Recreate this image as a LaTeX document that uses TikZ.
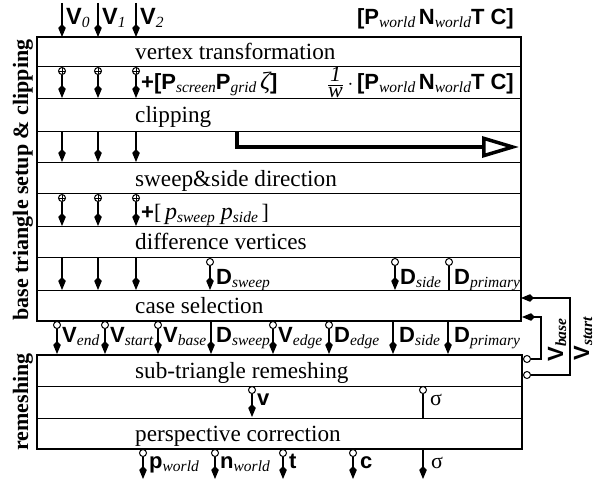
\documentclass[tikz,border=0pt]{standalone}
\usepackage{fontspec}
\setmainfont{Liberation Serif}
\setsansfont{Liberation Sans}
\usetikzlibrary{arrows.meta}

% bold sans symbol with an italic serif subscript
\newcommand\bsub[2]{{\sffamily\bfseries #1}\raisebox{-3pt}{\fontsize{15.5}{16}\selectfont\itshape #2}}
% italic serif symbol with an italic serif subscript
\newcommand\isub[2]{{\itshape #1}\raisebox{-3pt}{\fontsize{15.5}{16}\selectfont\itshape #2}}

\begin{document}
\begin{tikzpicture}[x=1pt,y=-1pt,
  txt/.style={font=\fontsize{23.2}{24}\selectfont, inner sep=0pt, anchor=base west},
  lab/.style={font=\fontsize{22}{24}\selectfont, inner sep=0pt, anchor=base west},
  labr/.style={lab, anchor=base east},
  sidelab/.style={font=\fontsize{22}{24}\selectfont\bfseries, inner sep=0pt, rotate=90},
  frame/.style={line width=1.6pt},
  sep/.style={line width=1pt},
  arr/.style={line width=1.1pt, -{Kite[length=13pt,width=7.5pt,inset=4pt]}},
  stub/.style={line width=1.1pt},
  ocirc/.style={circle, draw, line width=1pt, fill=white, inner sep=0pt, minimum size=7pt},
  oplus/.style={ocirc, path picture={
      \draw[line width=0.7pt] (path picture bounding box.north) -- (path picture bounding box.south)
            (path picture bounding box.west) -- (path picture bounding box.east);}},
  fat/.style={line width=3.5pt, -{Triangle[open, length=37pt, width=21pt]}}
]
\useasboundingbox (0,0) rectangle (600,481);

% ---------- base triangle setup & clipping block ----------
\draw[frame] (37,37) rectangle (521,321);
\foreach \y in {67,99,132,163,194,227,258,291}
  \draw[sep] (37,\y) -- (521,\y);

% ---------- remeshing block ----------
\draw[frame] (37,355) rectangle (522,449);
\foreach \y in {386,418}
  \draw[sep] (37,\y) -- (522,\y);

% side titles
\node[sidelab] (tsetup) at (23,180) {base triangle setup \& clipping};
\node[sidelab] (tremesh) at (23,402) {remeshing};

% stage names
\node[txt] (s1) at (135,60)  {vertex transformation};
\node[txt] (s2) at (135,123) {clipping};
\node[txt] (s3) at (135,187) {sweep\&side direction};
\node[txt] (s4) at (135,250) {difference vertices};
\node[txt] (s5) at (135,313) {case selection};
\node[txt] (s6) at (135,378) {sub-triangle remeshing};
\node[txt] (s7) at (135,441) {perspective correction};

% ---------- vertex inputs ----------
\foreach \x/\n in {62/0,98/1,136/2}{
  \coordinate (in\n) at (\x,3);
  \coordinate (top\n) at (\x,37);
  \draw[arr] (in\n) -- (top\n);
}
\node[lab, font=\fontsize{23.5}{24}\selectfont] (v0) at (66,25)  {\bsub{V}{0}};
\node[lab, font=\fontsize{23.5}{24}\selectfont] (v1) at (102,25) {\bsub{V}{1}};
\node[lab, font=\fontsize{23.5}{24}\selectfont] (v2) at (140,25) {\bsub{V}{2}};
\node[labr] (attr) at (514,25) {{\sffamily\bfseries [}\bsub{P}{world}\,\bsub{N}{world}{\sffamily\bfseries T C]}};

% ---------- per-vertex lanes ----------
\foreach \x/\n in {62/0,98/1,136/2}{
  % screen coordinates appended
  \node[oplus] (pa\n) at (\x,71) {};
  \coordinate (ta\n) at (\x,98);
  \draw[arr] (pa\n) -- (ta\n);
  % clipped vertices
  \coordinate (sb\n) at (\x,132);
  \coordinate (tb\n) at (\x,162);
  \draw[arr] (sb\n) -- (tb\n);
  % sweep / side projections appended
  \node[oplus] (pc\n) at (\x,198) {};
  \coordinate (tc\n) at (\x,226);
  \draw[arr] (pc\n) -- (tc\n);
  % vertices into case selection
  \coordinate (sd\n) at (\x,258);
  \coordinate (td\n) at (\x,290);
  \draw[arr] (sd\n) -- (td\n);
}
\node[lab] (scr) at (141,90) {{\sffamily\bfseries +[}\bsub{P}{screen}\bsub{P}{grid}\,{\itshape\fontsize{25}{26}\selectfont ζ}{\sffamily\bfseries ]}};
\node[labr] (persp) at (514,90) {$\frac{\textit{1}}{\textit{w}}$\,$\cdot$\,{\sffamily\bfseries [}\bsub{P}{world}\,\bsub{N}{world}{\sffamily\bfseries T C]}};
\node[lab] (swp) at (141,220) {{\sffamily\bfseries +}[\,{\fontsize{24}{26}\selectfont\isub{p}{sweep}\ \isub{p}{side}}\,]};

% clipping output
\coordinate (ca) at (237,132);
\coordinate (cb) at (519,147);
\draw[fat] (ca) |- (cb);

% difference vectors
\node[ocirc] (dsw) at (210,262) {};
\coordinate (dswt) at (210,290);
\draw[arr] (dsw) -- (dswt);
\node[ocirc] (dsi) at (395,262) {};
\coordinate (dsit) at (395,290);
\draw[arr] (dsi) -- (dsit);
\node[ocirc] (dpr) at (449,262) {};
\coordinate (dprt) at (449,291);
\draw[stub] (dpr) -- (dprt);
\node[lab] (ldsw) at (216,284) {\bsub{D}{sweep}};
\node[lab] (ldsi) at (400,284) {\bsub{D}{side}};
\node[lab] (ldpr) at (454,284) {\bsub{D}{primary}};

% ---------- case selection outputs ----------
\foreach \x/\n in {57/a,105/b,158/c,273/d,329/e}{
  \node[ocirc] (co\n) at (\x,325) {};
  \coordinate (cot\n) at (\x,354);
  \draw[arr] (co\n) -- (cot\n);
}
\foreach \x/\n in {211/f,393/g,448/h}{
  \coordinate (cos\n) at (\x,321);
  \coordinate (cot\n) at (\x,354);
  \draw[arr] (cos\n) -- (cot\n);
}
\node[lab] (lve) at (62,342)  {\bsub{V}{end}};
\node[lab] (lvs) at (110,342) {\bsub{V}{start}};
\node[lab] (lvb) at (163,342) {\bsub{V}{base}};
\node[lab] (lds) at (216,342) {\bsub{D}{sweep}};
\node[lab] (lvg) at (278,342) {\bsub{V}{edge}};
\node[lab] (ldg) at (334,342) {\bsub{D}{edge}};
\node[lab] (ldd) at (399,342) {\bsub{D}{side}};
\node[lab] (ldp) at (454,342) {\bsub{D}{primary}};

% ---------- feedback from remeshing ----------
\node[ocirc] (fb1) at (527,359) {};
\node[ocirc] (fb2) at (527,375) {};
\coordinate (k1) at (541,317);
\coordinate (e1) at (522,317);
\coordinate (k2) at (570,298);
\coordinate (e2) at (521,298);
\draw[arr] (fb1.east) -| (k1) -- (e1);
\draw[arr] (fb2.east) -| (k2) -- (e2);
\node[sidelab, anchor=base] (lfb1) at (563,340) {\bsub{V}{base}};
\node[sidelab, anchor=base] (lfb2) at (589,339) {\bsub{V}{start}};

% ---------- remeshing internals ----------
\node[ocirc] (rv) at (252,390) {};
\coordinate (rvt) at (252,417);
\draw[arr] (rv) -- (rvt);
\node[ocirc] (rs) at (423,390) {};
\coordinate (rst) at (423,418);
\draw[stub] (rs) -- (rst);
\node[lab] (lv) at (257,405) {{\sffamily\bfseries v}};
\node[lab] (ls) at (430,405) {σ};

% ---------- final outputs ----------
\foreach \x/\n in {143/a,215/b,283/c,353/d}{
  \node[ocirc] (out\n) at (\x,453) {};
  \coordinate (outt\n) at (\x,479);
  \draw[arr] (out\n) -- (outt\n);
}
\coordinate (oute) at (423,449);
\coordinate (outte) at (423,479);
\draw[arr] (oute) -- (outte);
\node[lab] (lp) at (149,468) {\bsub{p}{world}};
\node[lab] (ln) at (220,468) {\bsub{n}{world}};
\node[lab] (lt) at (289,468) {{\sffamily\bfseries t}};
\node[lab] (lc) at (360,468) {{\sffamily\bfseries c}};
\node[lab] (lsg) at (431,468) {σ};
\end{tikzpicture}
\end{document}
